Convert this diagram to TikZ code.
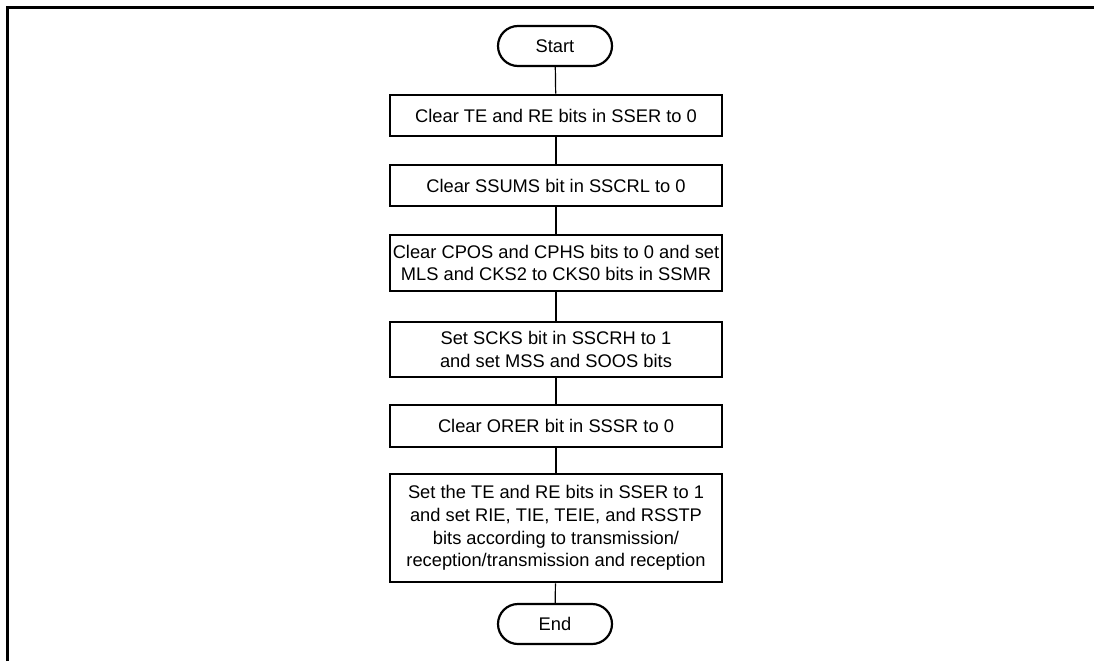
\documentclass[tikz,border=0pt]{standalone}
\usepackage{fontspec}
\setmainfont{Liberation Sans}
\begin{document}
\begin{tikzpicture}[x=1pt,y=-1pt,
  stepbox/.style={draw,line width=2.8pt,rectangle,minimum width=332pt,align=center,inner sep=1pt,
    font=\fontsize{18.3}{22.7}\selectfont},
  term/.style={draw,line width=2.2pt,rectangle,rounded corners=20pt,minimum width=114pt,minimum height=40pt,
    font=\fontsize{18.3}{22.7}\selectfont},
  conn/.style={line width=1.2pt}]
\useasboundingbox (0,0) rectangle (1094,661);
\coordinate (fa) at (7,661);
\coordinate (fb) at (7,8);
\coordinate (fc) at (1094,8);
\draw[line width=3pt] (fa) -- (fb) -- (fc);
\node[term] (start) at (555,46) {Start};
\node[stepbox,minimum height=41pt] (b1) at (556,115.5) {Clear TE and RE bits in SSER to 0};
\node[stepbox,minimum height=41pt] (b2) at (556,185.5) {Clear SSUMS bit in SSCRL to 0};
\node[stepbox,minimum height=56pt] (b3) at (556,263) {Clear CPOS and CPHS bits to 0 and set\\MLS and CKS2 to CKS0 bits in SSMR};
\node[stepbox,minimum height=55pt] (b4) at (556,349.5) {Set SCKS bit in SSCRH to 1\\and set MSS and SOOS bits};
\node[stepbox,minimum height=42pt] (b5) at (556,426) {Clear ORER bit in SSSR to 0};
\node[stepbox,minimum height=108pt] (b6) at (556,528) {Set the TE and RE bits in SSER to 1\\and set RIE, TIE, TEIE, and RSSTP\\bits according to transmission/\\reception/transmission and reception};
\node[term] (end) at (555,624) {End};
\draw[conn] (start) -- (b1);
\draw[conn] (b1) -- (b2);
\draw[conn] (b2) -- (b3);
\draw[conn] (b3) -- (b4);
\draw[conn] (b4) -- (b5);
\draw[conn] (b5) -- (b6);
\draw[conn] (b6) -- (end);
\end{tikzpicture}
\end{document}
